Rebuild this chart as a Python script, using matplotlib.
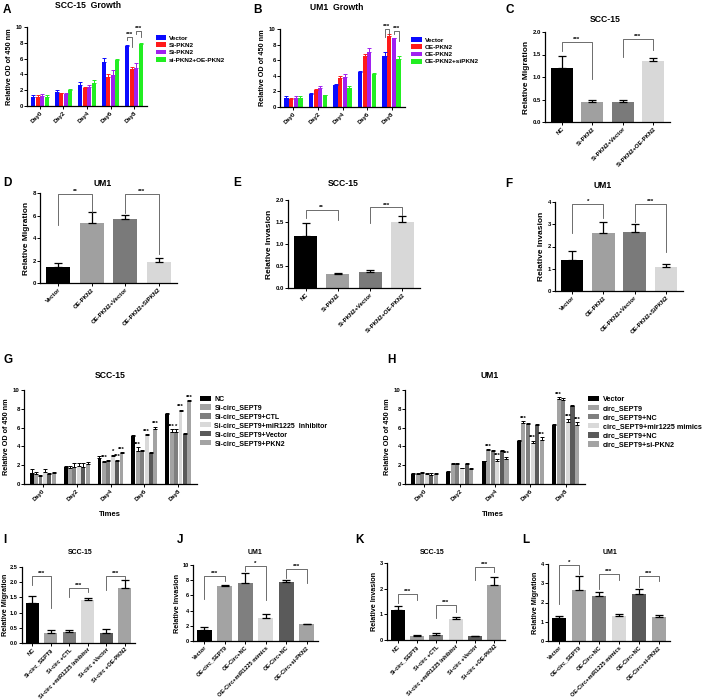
import matplotlib
matplotlib.use("Agg")
import matplotlib.pyplot as plt
import numpy as np

plt.rcParams["font.family"] = ["Liberation Sans", "DejaVu Sans"]
plt.rcParams["font.weight"] = "bold"
plt.rcParams["axes.labelweight"] = "bold"

W, H = 709, 700

days = ["Day0", "Day2", "Day4", "Day6", "Day8"]

# --- A: SCC-15 growth ---
a_labels = ["Vector", "Si-PKN2", "Si-PKN2", "si-PKN2+OE-PKN2"]
a_vals = [[1.2, 1.8, 2.7, 5.6, 7.6],
          [1.2, 1.6, 2.3, 3.7, 4.7],
          [1.3, 1.5, 2.4, 3.9, 4.8],
          [1.2, 2.0, 2.9, 5.8, 7.8]]
a_errs = [[0.25, 0.2, 0.4, 0.5, 0.15],
          [0.15, 0.1, 0.15, 0.4, 0.2],
          [0.25, 0.1, 0.2, 0.7, 0.6],
          [0.15, 0.1, 0.35, 0.15, 0.15]]

# --- B: UM1 growth ---
b_labels = ["Vector", "OE-PKN2", "OE-PKN2", "OE-PKN2+siPKN2"]
b_vals = [[1.2, 1.7, 2.8, 4.5, 6.5],
          [1.0, 2.2, 3.7, 6.6, 9.1],
          [1.1, 2.5, 3.8, 7.0, 8.8],
          [1.2, 1.5, 2.5, 4.2, 6.2]]
b_errs = [[0.2, 0.15, 0.15, 0.15, 0.5],
          [0.1, 0.1, 0.25, 0.25, 0.2],
          [0.3, 0.15, 0.45, 0.5, 0.1],
          [0.15, 0.1, 0.15, 0.1, 0.35]]

growth_colors = ["#0a0aff", "#ff1a1a", "#a020f0", "#22ee22"]

# --- C-F: migration / invasion ---
c_cats = ["NC", "Si-PKN2", "Si-PKN2+Vector", "Si-PKN2+OE-PKN2"]
c_vals = [1.19, 0.45, 0.45, 1.35]
c_errs = [0.28, 0.05, 0.03, 0.08]

d_cats = ["Vector", "OE-PKN2", "OE-PKN2+Vector", "OE-PKN2+SiPKN2"]
d_vals = [1.4, 5.3, 5.65, 1.9]
d_errs = [0.4, 1.05, 0.38, 0.3]

e_cats = ["NC", "Si-PKN2", "Si-PKN2+Vector", "Si-PKN2+OE-PKN2"]
e_vals = [1.19, 0.32, 0.36, 1.49]
e_errs = [0.29, 0.02, 0.04, 0.14]

f_cats = ["Vector", "OE-PKN2", "OE-PKN2+Vector", "OE-PKN2+SiPKN2"]
f_vals = [1.4, 2.6, 2.65, 1.1]
f_errs = [0.4, 0.5, 0.38, 0.1]

four_greys = ["#000000", "#a0a0a0", "#7a7a7a", "#d8d8d8"]

# --- G: SCC-15 growth, circ_SEPT9 ---
g_labels = ["NC", "Si-circ_SEPT9", "Si-circ_SEPT9+CTL",
            "Si-circ_SEPT9+miR1225  Inhibitor", "Si-circ_SEPT9+Vector",
            "Si-circ_SEPT9+PKN2"]
g_vals = [[1.2, 1.8, 2.8, 5.1, 7.5],
          [1.1, 1.7, 2.3, 3.5, 5.5],
          [0.9, 1.8, 2.4, 3.5, 5.5],
          [1.3, 1.9, 3.0, 5.2, 7.8],
          [1.1, 1.8, 2.4, 3.3, 5.3],
          [1.2, 2.1, 3.3, 5.9, 8.8]]
g_errs = [[0.35, 0.1, 0.15, 0.1, 0.05],
          [0.2, 0.2, 0.2, 0.4, 0.3],
          [0.1, 0.45, 0.2, 0.1, 0.3],
          [0.3, 0.35, 0.1, 0.1, 0.1],
          [0.1, 0.45, 0.2, 0.1, 0.1],
          [0.1, 0.2, 0.1, 0.2, 0.1]]
g_stars = [(2, 1, "***"), (2, 3, "*"), (2, 4, "***"), (2, 5, "***"),
           (3, 1, "***"), (3, 3, "***"), (3, 5, "***"),
           (4, 1, "***"), (4, 2, "*"), (4, 3, "***"), (4, 5, "***")]

# --- H: UM1 growth, circ_SEPT9 ---
h_labels = ["Vector", "circ_SEPT9", "circ_SEPT9+NC", "circ_SEPT9+mir1225 mimics",
            "circ_SEPT9+NC", "circ_SEPT9+si-PKN2"]
h_vals = [[1.1, 1.3, 2.4, 4.6, 6.3],
          [1.1, 2.1, 3.6, 6.5, 9.0],
          [1.2, 2.1, 3.5, 6.4, 8.9],
          [1.1, 1.7, 2.5, 4.4, 6.6],
          [1.0, 2.1, 3.5, 6.3, 8.3],
          [1.1, 1.6, 2.7, 4.7, 6.3]]
h_errs = [[0.1, 0.1, 0.05, 0.05, 0.05],
          [0.05, 0.15, 0.1, 0.15, 0.25],
          [0.05, 0.15, 0.1, 0.1, 0.3],
          [0.05, 0.05, 0.2, 0.2, 0.3],
          [0.15, 0.15, 0.15, 0.1, 0.15],
          [0.1, 0.15, 0.2, 0.3, 0.3]]
h_stars = [(2, 1, "***"), (2, 3, "***"), (2, 5, "***"),
           (3, 1, "***"), (3, 3, "***"), (3, 5, "***"),
           (4, 1, "***"), (4, 3, "***"), (4, 5, "***")]

six_greys = ["#000000", "#a3a3a3", "#7f7f7f", "#d9d9d9", "#5a5a5a", "#a3a3a3"]

# --- I-L ---
ik_cats = ["NC", "Si-circ_SEPT9", "Si-circ +CTL", "Si-circ +miR1225 Inhibitor",
           "Si-circ +Vector", "Si-circ +OE-PKN2"]
jl_cats = ["Vector", "OE-circ_SEPT9", "OE-Circ+NC", "OE-Circ+miR1225 mimics",
           "OE-Circ+NC", "OE-Circ+si-PKN2"]
i_vals = [1.3, 0.33, 0.35, 1.4, 0.32, 1.82]
i_errs = [0.25, 0.1, 0.07, 0.08, 0.15, 0.26]
j_vals = [1.5, 7.3, 7.6, 3.0, 7.7, 2.2]
j_errs = [0.4, 0.1, 1.3, 0.5, 0.3, 0.1]
k_vals = [1.15, 0.15, 0.18, 0.82, 0.14, 2.15]
k_errs = [0.16, 0.05, 0.1, 0.07, 0.03, 0.3]
l_vals = [1.2, 2.65, 2.35, 1.3, 2.45, 1.27]
l_errs = [0.12, 0.75, 0.22, 0.08, 0.25, 0.06]


fig = plt.figure(figsize=(W / 100, H / 100), dpi=100)


def box(x0, y0, x1, y1):
    return fig.add_axes([x0 / W, 1 - y1 / H, (x1 - x0) / W, (y1 - y0) / H])


def style(ax, ymax, ystep, fmt="{:g}", size=4.3):
    for s in ["top", "right"]:
        ax.spines[s].set_visible(False)
    for s in ["left", "bottom"]:
        ax.spines[s].set_linewidth(0.9)
    ticks = np.arange(0, ymax + ystep / 2, ystep)
    ax.set_ylim(0, ymax)
    ax.set_yticks(ticks)
    ax.set_yticklabels([fmt.format(t) for t in ticks])
    ax.tick_params(labelsize=size, length=2, width=0.7, pad=1)


def txt(x, y, s, size=6, ha="center"):
    fig.text(x / W, 1 - y / H, s, fontsize=size, fontweight="bold",
             ha=ha, va="center")


def bracket(ax, x1, x2, top, leg1, leg2, s, size=4.5):
    ax.plot([x1, x1, x2, x2], [leg1, top, top, leg2], color="#555555", lw=0.6,
            clip_on=False)
    ax.text((x1 + x2) / 2, top, s, ha="center", va="bottom", fontsize=size,
            fontweight="bold")


def grouped(ax, vals, errs, colors, labels, width, step, ecolor=None):
    n = len(vals)
    x = np.arange(len(days))
    for i in range(n):
        xi = x + (i - (n - 1) / 2) * step
        ec = colors[i] if ecolor is None else ecolor
        ax.bar(xi, vals[i], width, color=colors[i], label=labels[i])
        ax.errorbar(xi, vals[i], yerr=[np.zeros(len(days)), errs[i]], fmt="none",
                    ecolor=ec, elinewidth=0.7, capsize=1.2, capthick=0.7)
    ax.set_xlim(-0.55, len(days) - 0.45)
    ax.set_xticks(x)
    ax.set_xticklabels(days, rotation=45, ha="right", rotation_mode="anchor",
                       fontsize=4.5)
    ax.set_ylabel("Relative OD of 450 nm", fontsize=5.2, labelpad=2)


def simple(ax, cats, vals, errs, colors, ylabel, xsize=4.3, ysize=6, pad=2):
    x = np.arange(len(cats))
    ax.bar(x, vals, 0.72, color=colors)
    ax.errorbar(x, vals, yerr=[np.zeros(len(x)), errs], fmt="none",
                ecolor="black", elinewidth=0.9, capsize=3, capthick=0.9)
    ax.set_xlim(-0.55, len(cats) - 0.45)
    ax.set_xticks(x)
    ax.set_xticklabels(cats, rotation=45, ha="right", rotation_mode="anchor",
                       fontsize=xsize)
    ax.set_ylabel(ylabel, fontsize=ysize, labelpad=pad)


def legend(ax, size, x=1.03, y=1.0):
    ax.legend(loc="upper left", bbox_to_anchor=(x, y), frameon=False,
              fontsize=size, handlelength=1.6, handleheight=0.8,
              labelspacing=0.25, handletextpad=0.5, borderaxespad=0)


# A
ax = box(27, 27, 147, 106)
grouped(ax, a_vals, a_errs, growth_colors, a_labels, 0.17, 0.19)
style(ax, 10, 2)
legend(ax, 4.6, 1.05, 0.93)
bracket(ax, 4 - 0.285, 4 - 0.095, 8.75, 8.35, 7.5, "***")
bracket(ax, 4 + 0.095, 4 + 0.285, 9.5, 9.1, 8.7, "***")

# B
ax = box(280, 29, 405, 107)
grouped(ax, b_vals, b_errs, growth_colors, b_labels, 0.17, 0.19)
style(ax, 10, 2)
legend(ax, 4.6, 1.03, 0.93)
bracket(ax, 4 - 0.285, 4 - 0.095, 10.0, 9.0, 9.4, "***")
bracket(ax, 4 + 0.095, 4 + 0.285, 9.8, 9.4, 8.4, "***")

# C
ax = box(545, 32, 670, 122)
simple(ax, c_cats, c_vals, c_errs, four_greys, "Relative Migration")
style(ax, 2.0, 0.5, "{:.1f}")
bracket(ax, 0, 1, 1.77, 1.58, 0.95, "***")
bracket(ax, 2, 3, 1.84, 1.45, 1.6, "***")

# D
ax = box(40, 193, 177, 283)
simple(ax, d_cats, d_vals, d_errs, four_greys, "Relative Migration")
style(ax, 8, 2)
bracket(ax, 0, 1, 7.9, 5.2, 6.3, "**")
bracket(ax, 2, 3, 7.9, 6.2, 2.6, "***")

# E
ax = box(288, 200, 420, 288)
simple(ax, e_cats, e_vals, e_errs, four_greys, "Relative Invasion")
style(ax, 2.0, 0.5, "{:.1f}")
bracket(ax, 0, 1, 1.77, 1.6, 1.55, "**")
bracket(ax, 2, 3, 1.83, 1.47, 1.66, "***")

# F
ax = box(555, 202, 683, 291)
simple(ax, f_cats, f_vals, f_errs, four_greys, "Relative Invasion")
style(ax, 4, 1)
bracket(ax, 0, 1, 3.9, 2.6, 3.3, "*")
bracket(ax, 2, 3, 3.9, 3.1, 1.75, "***")

# G
ax = box(24, 390, 197, 484)
grouped(ax, g_vals, g_errs, six_greys, g_labels, 0.115, 0.13, ecolor="black")
style(ax, 10, 2)
legend(ax, 5.0, 1.0, 0.97)
for d, s, t in g_stars:
    xi = d + (s - 2.5) * 0.13
    ax.text(xi, g_vals[s][d] + g_errs[s][d] + 0.05, t, ha="center",
            va="bottom", fontsize=4.2)

# H
ax = box(405, 390, 585, 484)
grouped(ax, h_vals, h_errs, six_greys, h_labels, 0.115, 0.13, ecolor="black")
style(ax, 10, 2)
legend(ax, 5.2, 1.0, 0.97)
for d, s, t in h_stars:
    xi = d + (s - 2.5) * 0.13
    ax.text(xi, h_vals[s][d] + h_errs[s][d] + 0.05, t, ha="center",
            va="bottom", fontsize=4.2)

# I
ax = box(22, 567, 135, 643)
simple(ax, ik_cats, i_vals, i_errs, six_greys, "Relative Migration",
       xsize=4.0, ysize=5.2, pad=1)
style(ax, 2.5, 0.5, "{:.1f}", size=4.1)
bracket(ax, 0, 1, 2.2, 1.9, 1.15, "***")
bracket(ax, 2, 3, 1.8, 1.5, 1.68, "***")
bracket(ax, 4, 5, 2.2, 1.75, 2.1, "***")

# J
ax = box(193, 565, 318, 641)
simple(ax, jl_cats, j_vals, j_errs, six_greys, "Relative Invasion",
       xsize=4.0, ysize=5.2, pad=1)
style(ax, 10, 2, size=4.1)
bracket(ax, 0, 1, 8.6, 5.5, 7.9, "***")
bracket(ax, 2, 3, 9.9, 9.2, 5.4, "*")
bracket(ax, 4, 5, 9.5, 8.3, 7.6, "***")

# K
ax = box(387, 563, 505, 640)
simple(ax, ik_cats, k_vals, k_errs, six_greys, "Relative Invasion",
       xsize=4.0, ysize=5.2, pad=1)
style(ax, 3, 1, size=4.1)
bracket(ax, 0, 1, 1.8, 1.45, 1.55, "***")
bracket(ax, 2, 3, 1.36, 0.86, 1.1, "***")
bracket(ax, 4, 5, 2.85, 2.34, 2.65, "***")

# L
ax = box(548, 564, 670, 641)
simple(ax, jl_cats, l_vals, l_errs, six_greys, "Relative Migration",
       xsize=4.0, ysize=5.2, pad=1)
style(ax, 4, 1, size=4.1)
bracket(ax, 0, 1, 3.95, 1.9, 3.5, "*")
bracket(ax, 2, 3, 3.5, 2.7, 3.15, "***")
bracket(ax, 4, 5, 3.4, 2.8, 3.1, "***")

# titles and panel letters
txt(88, 5, "SCC-15  Growth", 6.2)
txt(337, 7, "UM1  Growth", 6.2)
txt(605, 20, "SCC-15", 6.2)
txt(103, 183, "UM1", 6.2)
txt(343, 183, "SCC-15", 6.2)
txt(603, 185, "UM1", 6.2)
txt(110, 375, "SCC-15", 6.2)
txt(490, 375, "UM1", 6.2)
txt(80, 553, "SCC-15", 5)
txt(255, 553, "UM1", 5)
txt(432, 553, "SCC-15", 5)
txt(610, 553, "UM1", 5)
txt(110, 515, "Times", 5.5)
txt(493, 515, "Times", 5.5)
for lab, x, y in [("A", 3, 10), ("B", 253, 10), ("C", 505, 10), ("D", 3, 183),
                  ("E", 233, 183), ("F", 505, 184), ("G", 3, 360), ("H", 387, 360),
                  ("I", 3, 540), ("J", 177, 540), ("K", 355, 540), ("L", 522, 540)]:
    txt(x, y, lab, 8.5, ha="left")

fig.savefig("out.png", dpi=100)
